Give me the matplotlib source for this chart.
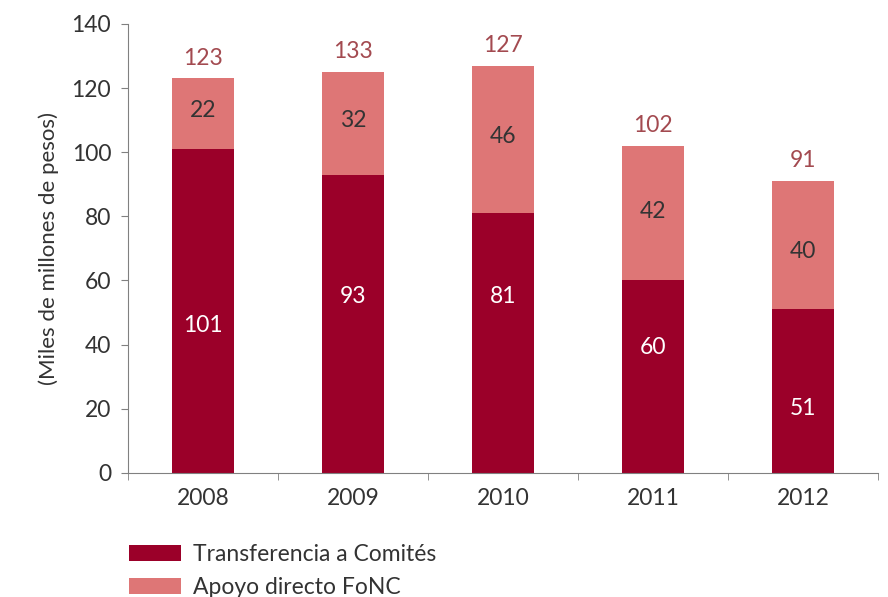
import matplotlib
matplotlib.use("Agg")
import matplotlib.pyplot as plt
import numpy as np

# data
years = ["2008", "2009", "2010", "2011", "2012"]
transferencia = [101, 93, 81, 60, 51]
apoyo = [22, 32, 46, 42, 40]
totales = [123, 133, 127, 102, 91]

# where the inner labels sit (the original doesn't center them)
label_y_dark = [46, 55, 55, 39, 20]
label_y_light = [113, 110, 105, 81.5, 69]

dark = "#9b0029"
light = "#de7676"
text_col = "#333333"

plt.rcParams["font.family"] = ["Lato", "DejaVu Sans"]

fig = plt.figure(figsize=(8.88, 5.97), dpi=100)
ax = fig.add_axes([0.144, 0.208, 0.845, 0.752])

x = np.arange(len(years))
w = 0.41
b1 = ax.bar(x, transferencia, w, color=dark, label="Transferencia a Comités")
b2 = ax.bar(x, apoyo, w, bottom=transferencia, color=light, label="Apoyo directo FoNC")

fs = 16.5
for i in range(len(years)):
    ax.text(x[i], label_y_dark[i], str(transferencia[i]), ha="center", va="center",
            color="white", fontsize=fs)
    ax.text(x[i], label_y_light[i], str(apoyo[i]), ha="center", va="center",
            color=text_col, fontsize=fs)
    ax.text(x[i], transferencia[i] + apoyo[i] + 3, str(totales[i]), ha="center",
            va="bottom", color="#a34a50", fontsize=fs)

ax.set_xlim(-0.5, len(years) - 0.5)
ax.set_ylim(0, 140)
ax.set_yticks(range(0, 141, 20))
ax.set_xticks(x)
ax.set_xticklabels(years)
ax.set_xticks(np.arange(-0.5, len(years), 1), minor=True)
ax.tick_params(axis="x", which="major", length=0, pad=11, labelsize=fs, labelcolor=text_col)
ax.tick_params(axis="x", which="minor", length=5, direction="out", color="#808080")
ax.tick_params(axis="y", length=5, direction="out", color="#808080", labelsize=fs,
               labelcolor=text_col, pad=7)

for s in ["top", "right"]:
    ax.spines[s].set_visible(False)
ax.spines["left"].set_color("#808080")
ax.spines["bottom"].set_color("#808080")

ax.set_ylabel("(Miles de millones de pesos)", fontsize=16, color=text_col, labelpad=9)

fig.legend(handles=[b1, b2], loc="upper left", bbox_to_anchor=(0.145, 0.089),
           frameon=False, fontsize=fs, handlelength=2.3, handleheight=0.7,
           labelspacing=0.55, handletextpad=0.5, borderpad=0, borderaxespad=0,
           labelcolor=text_col)

fig.savefig("out.png", dpi=100)
